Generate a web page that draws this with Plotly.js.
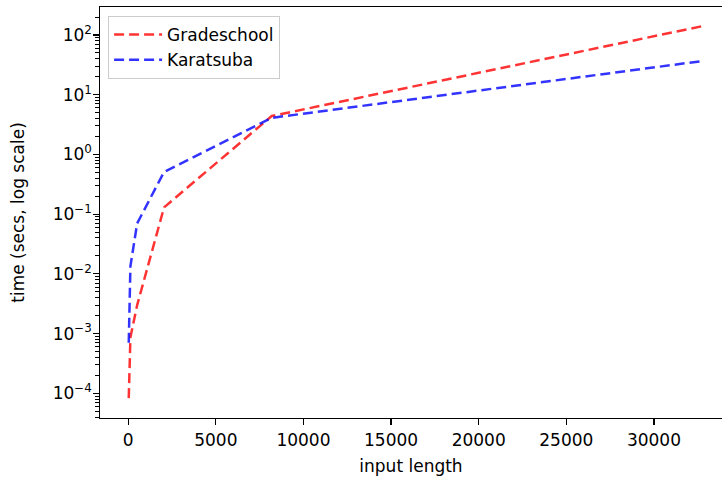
<!DOCTYPE html>
<html>
<head>
<meta charset="utf-8">
<script src="https://cdn.plot.ly/plotly-3.0.1.min.js"></script>
<style>html,body{margin:0;padding:0;background:#fff;overflow:hidden}</style>
</head>
<body>
<div id="chart" style="width:722px;height:478px"></div>
<script>
const inputLength = [32, 128, 512, 2048, 8192, 32768];
const gradeschool = [8.3e-5, 8.7e-4, 3.0e-3, 0.13, 4.4, 141];
const karatsuba   = [7.0e-4, 1.35e-2, 0.07, 0.51, 4.1, 36.7];
const seriesNames = ["Gradeschool", "Karatsuba"];
const yTickVals = [1e-4, 1e-3, 1e-2, 1e-1, 1, 10, 100];
const yTickText = ["10<sup>−4</sup>", "10<sup>−3</sup>", "10<sup>−2</sup>", "10<sup>−1</sup>", "10<sup>0</sup>", "10<sup>1</sup>", "10<sup>2</sup>"];
const xTickVals = [0, 5000, 10000, 15000, 20000, 25000, 30000];
const minorDigits = [2, 3, 4, 5, 6, 7, 8, 9];
const minorDecades = [1e-5, 1e-4, 1e-3, 1e-2, 1e-1, 1, 10, 100];

// all ticks (major + minor) for the main axis, labels only at decades
const yAllVals = [];
const yAllText = [];
minorDecades.forEach(d => {
  yAllVals.push(d);
  const i = yTickVals.indexOf(d);
  yAllText.push(i >= 0 ? yTickText[i] : "");
  minorDigits.forEach(m => { yAllVals.push(d * m); yAllText.push(""); });
});

const font = {family: "DejaVu Sans, sans-serif", size: 17, color: "#000"};
const yRange = [-4.414, 2.469];

const traces = [
  {x: inputLength, y: gradeschool, name: seriesNames[0], mode: "lines",
   line: {color: "rgba(255,0,0,0.8)", width: 2.5, dash: "10px,5px"}},
  {x: inputLength, y: karatsuba, name: seriesNames[1], mode: "lines", yaxis: "y2",
   line: {color: "rgba(0,0,255,0.8)", width: 2.5, dash: "10px,5px"}}
];

const layout = {
  width: 722, height: 478,
  margin: {l: 100, r: 0, t: 7, b: 60},
  paper_bgcolor: "#fff", plot_bgcolor: "#fff",
  font: font,
  showlegend: true,
  legend: {x: 0.013, y: 0.978, xanchor: "left", yanchor: "top",
           bgcolor: "rgba(255,255,255,0.8)", bordercolor: "#cccccc", borderwidth: 1,
           font: font, tracegroupgap: 0, itemwidth: 48},
  xaxis: {
    range: [-1608, 33882],
    tickvals: xTickVals, ticktext: xTickVals.map(String),
    showgrid: false, zeroline: false,
    showline: true, linecolor: "#000", linewidth: 1.2, mirror: true,
    ticks: "outside", ticklen: 6, tickwidth: 1.2, tickcolor: "#000",
    tickfont: font,
    title: {text: "input length", font: font, standoff: 11}
  },
  yaxis: {
    type: "log", range: yRange,
    tickmode: "array", tickvals: yAllVals, ticktext: yAllText,
    showgrid: false, zeroline: false,
    showline: true, linecolor: "#000", linewidth: 1.2,
    ticks: "outside", ticklen: 3.5, tickwidth: 1, tickcolor: "#000",
    ticklabelstandoff: 8.5,
    tickfont: font,
    title: {text: "time (secs, log scale)", font: font, standoff: 23}
  },
  yaxis2: {
    type: "log", range: yRange, overlaying: "y", side: "left", anchor: "x",
    tickmode: "array", tickvals: yTickVals, showticklabels: false,
    showgrid: false, zeroline: false, showline: false,
    ticks: "outside", ticklen: 6, tickwidth: 1.2, tickcolor: "#000"
  }
};

Plotly.newPlot("chart", traces, layout, {displayModeBar: false, staticPlot: true});
</script>
</body>
</html>
